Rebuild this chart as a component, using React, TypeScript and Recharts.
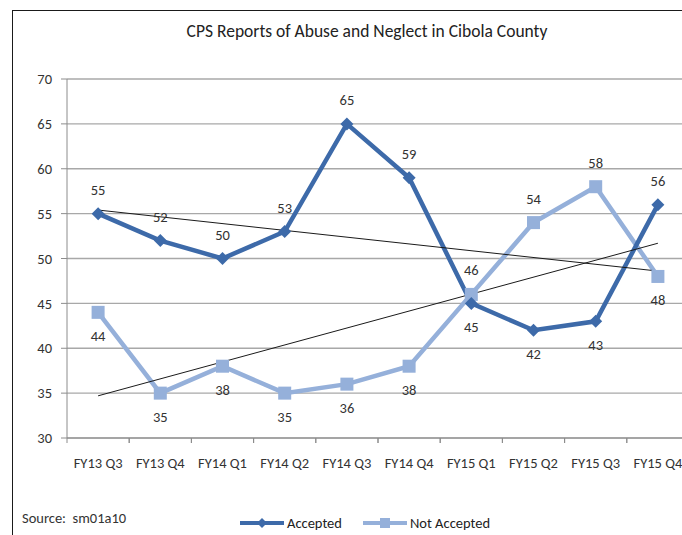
import React from "react";
import { LineChart, Line, XAxis, YAxis, CartesianGrid } from "recharts";

const quarters = [
  "FY13 Q3",
  "FY13 Q4",
  "FY14 Q1",
  "FY14 Q2",
  "FY14 Q3",
  "FY14 Q4",
  "FY15 Q1",
  "FY15 Q2",
  "FY15 Q3",
  "FY15 Q4",
];
const accepted = [55, 52, 50, 53, 65, 59, 45, 42, 43, 56];
const notAccepted = [44, 35, 38, 35, 36, 38, 46, 54, 58, 48];
// trendline end points (first and last quarter)
const acceptedTrend = [55.4, 48.6];
const notAcceptedTrend = [34.7, 51.7];
const yTicks = [30, 35, 40, 45, 50, 55, 60, 65, 70];

// which side of the point each data label sits on
const acceptedLabelSide = ["up", "up", "up", "up", "up", "up", "down", "down", "down", "up"];
const notAcceptedLabelSide = ["down", "down", "down", "down", "down", "down", "up", "up", "up", "down"];

const DARK = "#3D6AA9";
const LIGHT = "#95B0DA";
const FONT = "Carlito, 'Liberation Sans', Arial, sans-serif";

const CHART_W = 760;
const CHART_H = 535;
const PLOT_BOTTOM = 438;

const data = quarters.map((q, i) => ({
  quarter: q,
  accepted: accepted[i],
  notAccepted: notAccepted[i],
  acceptedTrend: i === 0 ? acceptedTrend[0] : i === quarters.length - 1 ? acceptedTrend[1] : null,
  notAcceptedTrend:
    i === 0 ? notAcceptedTrend[0] : i === quarters.length - 1 ? notAcceptedTrend[1] : null,
}));

function DiamondDot(props: any) {
  const { cx, cy, index } = props;
  if (cx == null || cy == null) return <g key={index} />;
  const r = 6.5;
  return (
    <path
      key={index}
      d={`M${cx},${cy - r} L${cx + r},${cy} L${cx},${cy + r} L${cx - r},${cy} Z`}
      fill={DARK}
    />
  );
}

function SquareDot(props: any) {
  const { cx, cy, index } = props;
  if (cx == null || cy == null) return <g key={index} />;
  const s = 13;
  return <rect key={index} x={cx - s / 2} y={cy - s / 2} width={s} height={s} fill={LIGHT} />;
}

function makeLabel(sides: string[]) {
  return function PointLabel(props: any) {
    const { x, y, value, index } = props;
    const dy = sides[index] === "up" ? -19 : 29;
    return (
      <text
        x={x}
        y={y + dy}
        textAnchor="middle"
        fontSize={14.5}
        fontFamily={FONT}
        fill="#333"
      >
        {value}
      </text>
    );
  };
}

function QuarterTick(props: any) {
  const { x, payload } = props;
  const half = payload && payload.offset ? payload.offset : 31.2;
  return (
    <g>
      <line x1={x - half} x2={x - half} y1={PLOT_BOTTOM} y2={PLOT_BOTTOM + 5} stroke="#8C8C8C" />
      <line x1={x + half} x2={x + half} y1={PLOT_BOTTOM} y2={PLOT_BOTTOM + 5} stroke="#8C8C8C" />
      <text x={x} y={PLOT_BOTTOM + 30} textAnchor="middle" fontSize={14.5} fontFamily={FONT} fill="#333">
        {payload.value}
      </text>
    </g>
  );
}

function LegendItem({
  color,
  label,
  square,
  gap,
}: {
  color: string;
  label: string;
  square?: boolean;
  gap: number;
}) {
  return (
    <div style={{ display: "flex", alignItems: "center", marginRight: gap }}>
      <svg width={44} height={12} style={{ marginRight: 3 }}>
        <line x1={0} x2={44} y1={6} y2={6} stroke={color} strokeWidth={4} />
        {square ? (
          <rect x={17} y={1} width={10} height={10} fill={color} />
        ) : (
          <path d="M22,1 L27,6 L22,11 L17,6 Z" fill={color} />
        )}
      </svg>
      <span>{label}</span>
    </div>
  );
}

export default function App() {
  return (
    <div
      style={{
        position: "absolute",
        left: 0,
        top: 0,
        width: 682,
        height: 535,
        overflow: "hidden",
        background: "#fff",
        fontFamily: FONT,
      }}
    >
      <div
        style={{
          position: "absolute",
          left: 12,
          top: 10,
          width: 760,
          height: 600,
          border: "1.5px solid #1a1a1a",
        }}
      />
      <div
        style={{
          position: "absolute",
          left: 0,
          width: 734,
          top: 20,
          textAlign: "center",
          fontSize: 17.5,
          color: "#222",
        }}
      >
        CPS Reports of Abuse and Neglect in Cibola County
      </div>
      <div style={{ position: "absolute", left: 0, top: 0 }}>
        <LineChart
          width={CHART_W}
          height={CHART_H}
          data={data}
          margin={{ top: 79, right: 71, left: 0, bottom: CHART_H - PLOT_BOTTOM - 30 }}
        >
          <CartesianGrid vertical={false} stroke="#A8A8A8" strokeWidth={1.3} />
          <XAxis
            dataKey="quarter"
            scale="band"
            height={30}
            interval={0}
            stroke="#8C8C8C"
            tickLine={false}
            tick={<QuarterTick />}
          />
          <YAxis
            width={67}
            domain={[30, 70]}
            ticks={yTicks}
            interval={0}
            stroke="#8C8C8C"
            tickSize={6}
            tickMargin={9}
            tick={{ fontSize: 14.5, fill: "#333", fontFamily: FONT }}
          />
          <Line
            dataKey="notAccepted"
            stroke={LIGHT}
            strokeWidth={4.5}
            dot={<SquareDot />}
            activeDot={false}
            isAnimationActive={false}
            label={makeLabel(notAcceptedLabelSide)}
          />
          <Line
            dataKey="accepted"
            stroke={DARK}
            strokeWidth={4.5}
            dot={<DiamondDot />}
            activeDot={false}
            isAnimationActive={false}
            label={makeLabel(acceptedLabelSide)}
          />
          <Line
            dataKey="acceptedTrend"
            stroke="#1a1a1a"
            strokeWidth={1}
            dot={false}
            activeDot={false}
            connectNulls
            isAnimationActive={false}
          />
          <Line
            dataKey="notAcceptedTrend"
            stroke="#1a1a1a"
            strokeWidth={1}
            dot={false}
            activeDot={false}
            connectNulls
            isAnimationActive={false}
          />
        </LineChart>
      </div>
      <div style={{ position: "absolute", left: 22, top: 509, fontSize: 14.5, color: "#333" }}>
        Source:&nbsp;&nbsp;sm01a10
      </div>
      <div
        style={{
          position: "absolute",
          left: 240,
          top: 514,
          display: "flex",
          fontSize: 14.5,
          color: "#222",
        }}
      >
        <LegendItem color={DARK} label="Accepted" gap={21} />
        <LegendItem color={LIGHT} label="Not Accepted" square gap={0} />
      </div>
    </div>
  );
}
